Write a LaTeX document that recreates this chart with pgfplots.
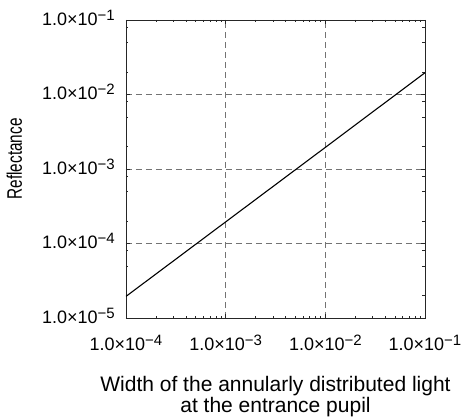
\documentclass[border=0pt]{standalone}
\usepackage{fontspec}
\setmainfont{Liberation Sans}
\usepackage{pgfplots}
\pgfplotsset{compat=1.18}
% tick label like 1.0x10^-n, set in the text font
\newcommand{\sci}[1]{1.0×10\raisebox{5pt}{\fontsize{15}{15}\selectfont −#1}}

\begin{document}
\begin{tikzpicture}
\begin{axis}[
  scale only axis, width=299pt, height=298pt,
  xmode=log, ymode=log,
  xmin=1e-4, xmax=1e-1, ymin=1e-5, ymax=1e-1,
  xtick={1e-4,1e-3,1e-2,1e-1},
  xticklabels={\sci{4},\sci{3},\sci{2},\sci{1}},
  minor xtick={2e-4,3e-4,4e-4,5e-4,6e-4,7e-4,8e-4,9e-4,
               2e-3,3e-3,4e-3,5e-3,6e-3,7e-3,8e-3,9e-3,
               2e-2,3e-2,4e-2,5e-2,6e-2,7e-2,8e-2,9e-2},
  ytick={1e-5,1e-4,1e-3,1e-2,1e-1},
  yticklabels={\sci{5},\sci{4},\sci{3},\sci{2},\sci{1}},
  minor ytick={2e-5,5e-5,8e-5,2e-4,5e-4,8e-4,2e-3,5e-3,8e-3,2e-2,5e-2,8e-2},
  tick label style={font=\fontsize{18}{18}\selectfont, inner sep=0pt},
  xticklabel style={anchor=base, yshift=-32pt},
  yticklabel style={anchor=base east, xshift=-11pt, yshift=-5.5pt},
  grid=major,
  major grid style={black!55, line width=0.8pt, dash pattern=on 6pt off 4pt},
  axis line style={black!85, line width=0.9pt},
  every tick/.style={black!85, line width=0.8pt},
  major tick length=4pt, minor tick length=2.5pt,
  xlabel={Width of the annularly distributed light\\at the entrance pupil},
  xlabel style={font=\fontsize{21}{21}\selectfont, align=center, inner sep=0pt,
                at={(axis description cs:0.5,-0.196)}, anchor=north},
  ylabel={\scalebox{0.73}[1]{Reflectance}},
  ylabel style={font=\fontsize{21}{21}\selectfont, inner sep=0pt,
                at={(axis description cs:-0.373,0.534)}, anchor=center},
]
\addplot[black, line width=1.1pt] coordinates {
  (1e-4,1.95e-5) (1e-3,1.95e-4) (1e-2,1.95e-3) (1e-1,1.96e-2)
};
\end{axis}
\pgfresetboundingbox
\path ([xshift=-126pt,yshift=-101pt]current axis.south west)
  rectangle ([xshift=41pt,yshift=20pt]current axis.north east);
\end{tikzpicture}
\end{document}
